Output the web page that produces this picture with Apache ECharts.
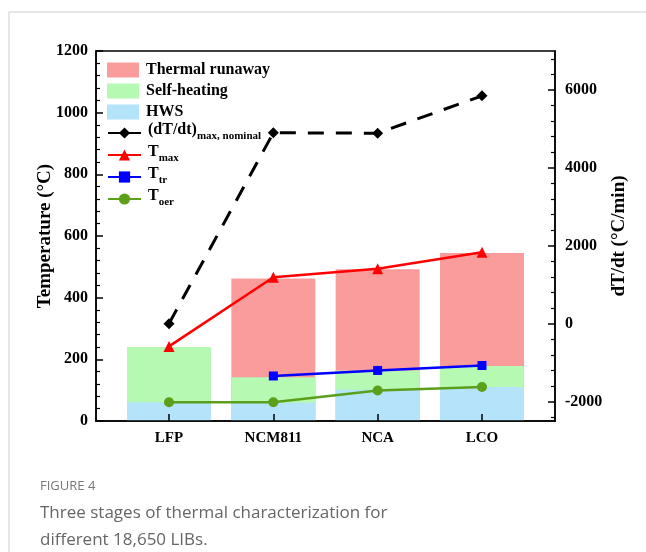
<!DOCTYPE html>
<html>
<head>
<meta charset="utf-8">
<script src="https://cdn.jsdelivr.net/npm/echarts@6/dist/echarts.min.js"></script>
<style>
  html, body { margin: 0; padding: 0; background: #fff; }
  #chart { width: 646px; height: 552px; }
</style>
</head>
<body>
<div id="chart"></div>
<script>
// categories and values
const cells = ["LFP", "NCM811", "NCA", "LCO"];
const hwsTop = [61, 59, 101, 110];            // HWS (blue) bar top, °C
const selfHeatTop = [240, 142, 164, 178];     // Self-heating (green) bar top, °C
const runawayTop = [null, 462, 492, 545];     // Thermal runaway (pink) bar top, °C
const dTdtMax = [0, 4900, 4890, 5850];        // (dT/dt)max, nominal, °C/min
const tMax = [242, 466, 494, 547];
const tTr = [null, 146, 164, 180];
const tOer = [61, 61, 99, 110];

const rightTicks = [-2000, 0, 2000, 4000, 6000];
const rightMinor = [-2400, -1600, -1200, -800, -400, 400, 800, 1200, 1600, 2400, 2800, 3200, 3600, 4400, 4800, 5200, 5600, 6400, 6800];

const serif = "Liberation Serif";
const pair = (arr) => arr.map((v, i) => [i + 1, v]);
const plain = (v) => String(v);

const chart = echarts.init(document.getElementById("chart"));

const option = {
  animation: false,
  textStyle: { fontFamily: serif },
  grid: {
    left: 96,
    right: 91,
    top: 51,
    bottom: 131,
    show: true,
    borderColor: "#000",
    borderWidth: 1.5
  },
  legend: [
    {
      orient: "vertical",
      left: 107,
      top: 62,
      padding: 0,
      itemWidth: 32,
      itemHeight: 15,
      itemGap: 5,
      icon: "rect",
      data: ["Thermal runaway", "Self-heating", "HWS"],
      textStyle: { fontFamily: serif, fontWeight: "bold", fontSize: 16, color: "#000", padding: [0, 0, 0, 2] }
    },
    {
      orient: "vertical",
      left: 107,
      top: 122,
      padding: 0,
      itemWidth: 33,
      itemHeight: 14,
      itemGap: 2,
      data: [
        { name: "dTdt", lineStyle: { type: "solid" } },
        { name: "Tmax" },
        { name: "Ttr" },
        { name: "Toer" }
      ],
      formatter: (name) => {
        if (name === "dTdt") return "{m|(dT/dt)}{s|max, nominal}";
        return "{m|T}{s|" + name.slice(1) + "}";
      },
      textStyle: {
        padding: [0, 0, 0, 2],
        rich: {
          m: { fontFamily: serif, fontWeight: "bold", fontSize: 16, color: "#000", lineHeight: 18, verticalAlign: "bottom", padding: [0, 0, 4, 0] },
          s: { fontFamily: serif, fontWeight: "bold", fontSize: 11, color: "#000", lineHeight: 12, verticalAlign: "bottom" }
        }
      }
    }
  ],
  xAxis: {
    type: "value",
    min: 0.3,
    max: 4.7,
    z: 10,
    splitLine: { show: false },
    axisLine: { lineStyle: { color: "#000", width: 1.5 } },
    axisTick: { inside: true, length: 7, customValues: [1, 2, 3, 4], lineStyle: { color: "#000", width: 1.5 } },
    axisLabel: {
      customValues: [1, 2, 3, 4],
      formatter: (v) => cells[Math.round(v) - 1] || "",
      fontFamily: serif,
      fontWeight: "bold",
      fontSize: 15,
      color: "#000",
      margin: 10
    }
  },
  yAxis: [
    {
      type: "value",
      min: 0,
      max: 1200,
      interval: 200,
      z: 10,
      name: "Temperature (°C)",
      nameLocation: "middle",
      nameGap: 41,
      nameMoveOverlap: false,
      nameTextStyle: { fontFamily: serif, fontWeight: "bold", fontSize: 19, color: "#000" },
      splitLine: { show: false },
      axisLine: { show: true, lineStyle: { color: "#000", width: 1.5 } },
      axisTick: { inside: true, length: 7, lineStyle: { color: "#000", width: 1.5 } },
      minorTick: { show: true, splitNumber: 5, length: 4, lineStyle: { color: "#000", width: 1.2 } },
      axisLabel: { formatter: plain, fontFamily: serif, fontWeight: "bold", fontSize: 16, color: "#000", margin: 8 }
    },
    {
      type: "value",
      position: "right",
      min: -2500,
      max: 7000,
      z: 10,
      name: "dT/dt (°C/min)",
      nameLocation: "middle",
      nameGap: 55,
      nameRotate: 90,
      nameMoveOverlap: false,
      nameTextStyle: { fontFamily: serif, fontWeight: "bold", fontSize: 19, color: "#000" },
      splitLine: { show: false },
      axisLine: { show: true, lineStyle: { color: "#000", width: 1.5 } },
      axisTick: { inside: true, length: 7, customValues: rightTicks, lineStyle: { color: "#000", width: 1.5 } },
      axisLabel: { customValues: rightTicks, formatter: plain, fontFamily: serif, fontWeight: "bold", fontSize: 16, color: "#000", margin: 10 }
    },
    {
      type: "value",
      position: "right",
      min: -2500,
      max: 7000,
      z: 10,
      splitLine: { show: false },
      axisLine: { show: false },
      axisTick: { inside: true, length: 4, customValues: rightMinor, lineStyle: { color: "#000", width: 1.2 } },
      axisLabel: { show: false }
    }
  ],
  series: [
    {
      name: "Thermal runaway",
      type: "bar",
      data: pair(runawayTop),
      barWidth: 84,
      barGap: "-100%",
      itemStyle: { color: "#fa9c9c" }
    },
    {
      name: "Self-heating",
      type: "bar",
      data: pair(selfHeatTop),
      barWidth: 84,
      barGap: "-100%",
      itemStyle: { color: "#b5f9b3" }
    },
    {
      name: "HWS",
      type: "bar",
      data: pair(hwsTop),
      barWidth: 84,
      barGap: "-100%",
      itemStyle: { color: "#b5e3fa" }
    },
    {
      name: "dTdt",
      type: "line",
      yAxisIndex: 1,
      data: pair(dTdtMax),
      symbol: "diamond",
      symbolSize: 11,
      itemStyle: { color: "#000" },
      lineStyle: { color: "#000", width: 3, type: [16, 12] },
      z: 5
    },
    {
      name: "Tmax",
      type: "line",
      data: pair(tMax),
      symbol: "triangle",
      symbolSize: 11,
      itemStyle: { color: "#ff0000" },
      lineStyle: { color: "#ff0000", width: 2.5 },
      z: 5
    },
    {
      name: "Ttr",
      type: "line",
      data: pair(tTr),
      symbol: "rect",
      symbolSize: 9,
      itemStyle: { color: "#0000ff" },
      lineStyle: { color: "#0000ff", width: 2.5 },
      z: 5
    },
    {
      name: "Toer",
      type: "line",
      data: pair(tOer),
      symbol: "circle",
      symbolSize: 10,
      itemStyle: { color: "#5b9f1b" },
      lineStyle: { color: "#5b9f1b", width: 2.5 },
      z: 5
    }
  ],
  graphic: [
    { type: "line", shape: { x1: 9, y1: 12, x2: 646, y2: 12 }, style: { stroke: "#cfcfcf", lineWidth: 1 } },
    { type: "line", shape: { x1: 9, y1: 12, x2: 9, y2: 552 }, style: { stroke: "#cfcfcf", lineWidth: 1 } },
    {
      type: "text",
      left: 40,
      top: 480,
      style: { text: "FIGURE 4", font: "13px 'Open Sans'", fill: "#777" }
    },
    {
      type: "text",
      left: 40,
      top: 500,
      style: {
        text: "Three stages of thermal characterization for\ndifferent 18,650 LIBs.",
        font: "17px 'Open Sans'",
        lineHeight: 27,
        fill: "#666"
      }
    }
  ]
};

chart.setOption(option);
</script>
</body>
</html>
